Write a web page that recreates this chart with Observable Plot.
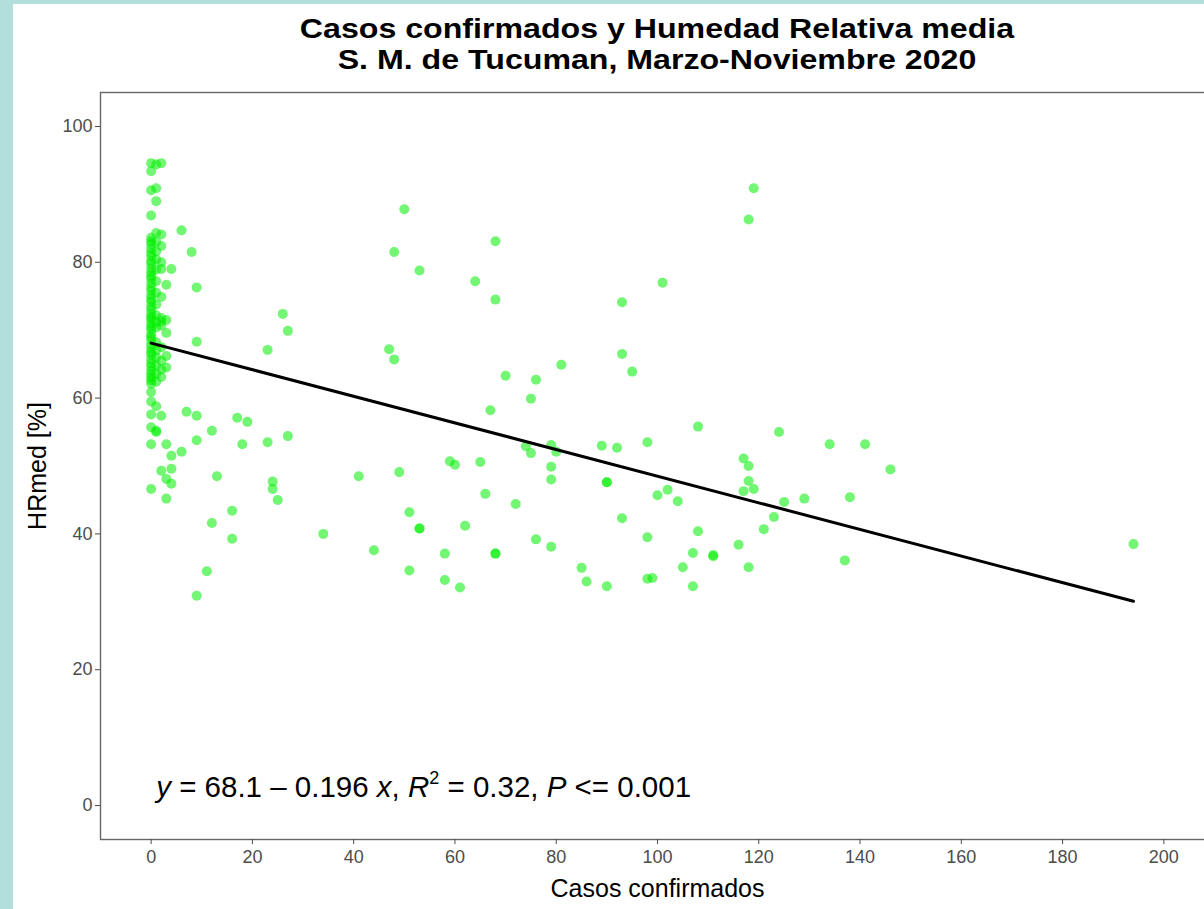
<!DOCTYPE html>
<html>
<head>
<meta charset="utf-8">
<script src="https://cdn.jsdelivr.net/npm/d3@7"></script>
<script src="https://cdn.jsdelivr.net/npm/@observablehq/plot@0.6"></script>
<style>
html, body { margin: 0; padding: 0; width: 1204px; height: 909px; overflow: hidden; background: #b2dfdb; font-family: "Liberation Sans", Arial, sans-serif; }
#card { position: absolute; left: 13px; top: 4px; width: 1191px; height: 905px; background: #ffffff; overflow: hidden; }
#title { position: absolute; left: 0; top: 10px; width: 1288px; text-align: center; font-weight: bold; font-size: 27px; line-height: 31px; color: #000; }
#title div { transform: scaleX(1.19); transform-origin: 50% 50%; }
#chart { position: absolute; left: 0; top: 0; width: 1230px; }
#chart svg { max-width: none !important; width: 1230px; height: 905px; }
</style>
</head>
<body>
<div id="card">
  <div id="title"></div>
  <div id="chart"></div>
</div>
<script>
// ---- data ----
const titleLines = ["Casos confirmados y Humedad Relativa media", "S. M. de Tucuman, Marzo-Noviembre 2020"];
const xLabel = "Casos confirmados";
const yLabel = "HRmed [%]";
const xTicks = [0, 20, 40, 60, 80, 100, 120, 140, 160, 180, 200];
const yTicks = [0, 20, 40, 60, 80, 100];
const regIntercept = 68.1;
const regSlope = -0.196;
const regText = "y = 68.1 – 0.196 x, R2 = 0.32, P <= 0.001";

const casos = [
  // column near zero: top and bottom outliers
  0, 1, 2, 0, 0, 1, 1, 0, 1, 2, 0, 0, 1, 0, 2, 0, 1, 1,
  // dense column at 0
  0, 0, 0, 0, 0, 0, 0, 0, 0, 0, 0, 0, 0, 0, 0, 0, 0, 0, 0, 0, 0, 0, 0, 0, 0, 0, 0, 0, 0, 0, 0, 0, 0, 0, 0, 0, 0, 0, 0, 0, 0,
  1, 1, 1, 1, 1, 1, 1, 1, 1, 1, 1, 1, 1, 1, 1, 1,
  2, 2, 2, 2, 2, 2, 2, 2, 2,
  3, 3, 3,
  // low cases
  6, 8, 2, 4, 3, 9, 2, 3, 9, 26, 27, 23, 7, 9, 17, 19, 12, 27, 9, 18, 23, 0, 3, 4, 6,
  2, 4, 3, 4, 13, 24, 24, 25, 0, 3, 16, 12, 16, 11, 9, 34,
  // middle
  50, 48, 53, 68, 64, 68, 47, 48, 70, 67, 41, 49, 59, 60, 65, 66, 72, 51, 53, 53, 62, 44, 58, 68, 68, 51, 58, 61,
  101, 93, 93, 95, 81, 76, 75, 108, 74, 75, 79, 80, 89, 92, 98, 79, 79, 90, 90, 100, 102, 104, 93, 108, 98, 76, 79,
  107, 111, 111, 105, 85, 86, 90, 98, 99, 107,
  // high
  119, 118, 124, 134, 141, 146, 117, 118, 118, 117, 119, 125, 129, 138, 123, 121, 116, 118, 137, 194
];
const hrmed = [
  94.6, 94.4, 94.6, 93.4, 90.6, 90.9, 89.0, 86.9, 84.3, 84.1, 60.9, 59.5, 58.8, 57.6, 57.4, 55.7, 55.2, 55.0,
  83.6, 83.1, 82.7, 82.0, 81.4, 80.9, 80.2, 79.8, 79.1, 78.5, 78.0, 77.6, 76.9, 76.3, 75.8, 75.1, 74.6, 74.2, 73.5, 73.0, 72.4, 71.9, 71.6, 71.0, 70.5, 70.1, 69.4, 69.0, 68.6, 67.9, 67.3, 66.8, 66.4, 65.7, 65.1, 64.6, 64.0, 63.5, 63.0, 62.6, 62.1,
  83.0, 81.6, 80.4, 78.9, 77.2, 75.5, 73.8, 72.2, 71.2, 70.4, 68.2, 67.0, 66.0, 64.8, 63.6, 62.4,
  82.4, 80.0, 71.8, 71.3, 70.7, 67.5, 65.5, 64.2, 63.1,
  71.5, 66.2, 64.5,
  84.7, 81.5, 79.0, 79.0, 76.7, 76.3, 74.9, 69.6, 68.3, 72.4, 69.9, 67.1, 58.0, 57.4, 57.1, 56.5, 55.2, 54.4, 53.8, 53.2, 53.5, 53.2, 53.2, 51.5, 52.1,
  49.3, 49.6, 48.1, 47.4, 48.5, 47.7, 46.6, 45.0, 46.6, 45.2, 43.4, 41.6, 39.3, 34.5, 30.9, 40.0,
  87.8, 81.5, 78.8, 83.1, 77.2, 74.5, 67.2, 65.7, 63.3, 58.2, 48.5, 49.1, 50.7, 50.2, 50.6, 45.9, 44.4, 43.2, 40.8, 40.8, 41.2, 37.6, 37.1, 37.1, 37.1, 34.6, 33.2, 32.1,
  77.0, 74.1, 66.5, 63.9, 64.9, 62.7, 59.9, 55.8, 52.9, 51.9, 53.1, 52.1, 53.0, 52.7, 53.5, 49.9, 48.0, 47.6, 47.6, 45.7, 46.5, 44.8, 42.3, 40.4, 39.5, 39.2, 38.1,
  37.2, 36.7, 36.9, 35.1, 35.0, 33.0, 32.3, 33.4, 33.5, 32.3,
  90.9, 86.3, 55.0, 53.2, 53.2, 49.5, 51.1, 50.0, 47.8, 46.3, 46.6, 44.7, 45.2, 45.4, 42.5, 40.7, 38.4, 35.1, 36.1, 38.5
];
const annX = [1];
const annY = [2.7];

// ---- build ----
document.getElementById("title").innerHTML = titleLines.map(t => `<div>${t}</div>`).join("");

const points = casos.map((c, i) => ({casos: c, hr: hrmed[i]}));
const xMin = d3.min(casos), xMax = d3.max(casos);
const regLine = [xMin, xMax].map(x => ({casos: x, hr: regIntercept + regSlope * x}));

const chart = Plot.plot({
  width: 1230,
  height: 905,
  marginLeft: 87,
  marginRight: 29,
  marginTop: 88,
  marginBottom: 70,
  style: {fontFamily: "'Liberation Sans', Arial, sans-serif", fontSize: "18px", background: "transparent", maxWidth: "none"},
  x: {domain: [-10, 210]},
  y: {domain: [-5, 105]},
  marks: [
    Plot.dot(points, {x: "casos", y: "hr", r: 5, fill: "#00ee00", fillOpacity: 0.55, stroke: "none"}),
    Plot.line(regLine, {x: "casos", y: "hr", stroke: "#000", strokeWidth: 3}),
    Plot.frame({stroke: "#666", strokeWidth: 1.4}),
    Plot.axisX({ticks: xTicks, tickSize: 5, tickPadding: 6, label: null, color: "#4d4d4d", fontSize: 18}),
    Plot.axisY({ticks: yTicks, tickSize: 5, tickPadding: 3, label: null, color: "#4d4d4d", fontSize: 18}),
    Plot.text([regText], {x: annX, y: annY, text: d => d, textAnchor: "start", fontSize: 29.5, fill: "#000"}),
    Plot.text([xLabel], {frameAnchor: "bottom", textAnchor: "middle", lineAnchor: "bottom", dy: 57, text: d => d, fontSize: 25, fill: "#000"}),
    Plot.text([yLabel], {frameAnchor: "left", textAnchor: "middle", lineAnchor: "middle", dx: -63, rotate: -90, text: d => d, fontSize: 25, fill: "#000"})
  ]
});
document.getElementById("chart").appendChild(chart);

// rich formatting of the regression annotation (italic symbols, superscript)
d3.select(chart).selectAll("text").each(function() {
  if (this.textContent === regText) {
    const t = d3.select(this);
    t.text(null);
    const parts = [
      {s: "y", it: true}, {s: " = 68.1 – 0.196 "}, {s: "x", it: true}, {s: ", "},
      {s: "R", it: true}, {s: "2", sup: true}, {s: " = 0.32, "}, {s: "P", it: true}, {s: " <= 0.001"}
    ];
    let shifted = false;
    for (const p of parts) {
      const ts = t.append("tspan").text(p.s);
      if (p.it) ts.attr("font-style", "italic");
      if (p.sup) { ts.attr("font-size", 18).attr("dy", -13); shifted = true; }
      else if (shifted) { ts.attr("dy", 13); shifted = false; }
    }
  }
});
</script>
</body>
</html>
